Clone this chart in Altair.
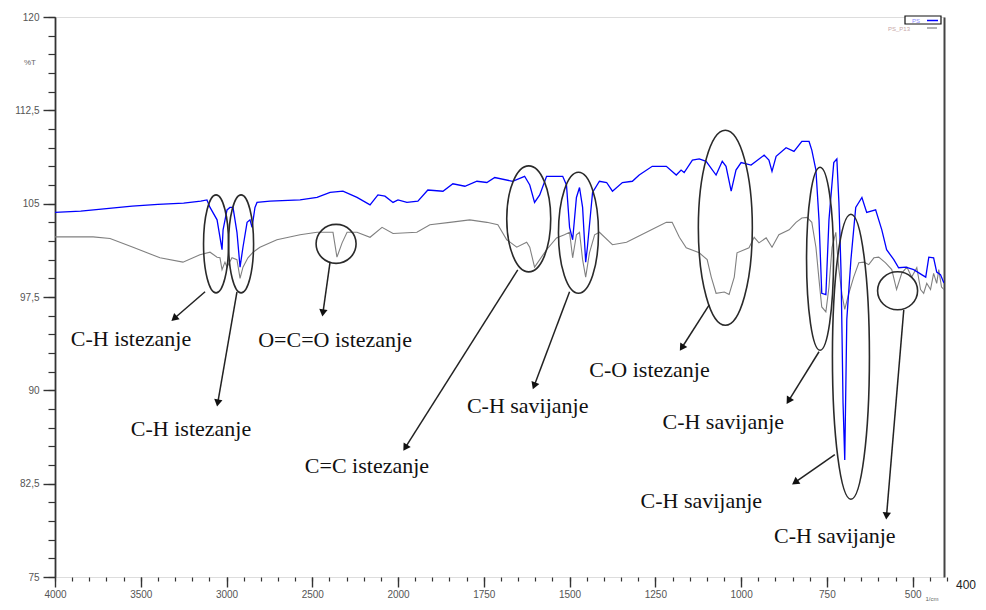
import altair as alt
import pandas as pd

# ---- spectra (wavenumber 1/cm, %T) ----
ps_points = [
    (4000, 104.3), (3850, 104.4), (3700, 104.6), (3550, 104.8), (3400, 104.95), (3250, 105.05),
    (3150, 105.2), (3114, 105.3), (3096, 104.7), (3055, 103.7), (3026, 101.3), (3020, 102.9),
    (2997, 104.5), (2980, 104.7), (2962, 104.7), (2939, 102.7), (2921, 99.9), (2904, 101.5),
    (2880, 103.5), (2863, 103.7), (2851, 103.1), (2834, 104.7), (2822, 105.1), (2746, 105.2),
    (2571, 105.3), (2472, 105.5), (2396, 105.9), (2321, 106.0), (2239, 105.5), (2163, 104.9),
    (2117, 105.7), (2076, 105.6), (2029, 105.1), (2000, 105.3), (1974, 105.1), (1942, 105.2),
    (1913, 106.1), (1869, 106.0), (1840, 106.6), (1805, 106.4), (1770, 106.8), (1741, 106.7),
    (1718, 107.1), (1666, 106.8), (1631, 107.2), (1616, 106.5), (1602, 105.1), (1587, 105.7),
    (1567, 107.2), (1520, 107.2), (1509, 106.5), (1500, 103.1), (1491, 102.1), (1480, 105.5),
    (1471, 106.3), (1462, 104.7), (1453, 100.3), (1448, 101.5), (1433, 105.9), (1413, 106.8),
    (1392, 106.7), (1375, 106.0), (1346, 106.7), (1317, 106.8), (1297, 107.3), (1259, 108.0),
    (1218, 108.0), (1189, 107.3), (1175, 107.7), (1166, 107.5), (1142, 108.5), (1122, 108.6),
    (1102, 108.4), (1073, 107.3), (1055, 108.4), (1044, 108.0), (1029, 106.0), (1015, 107.7),
    (1000, 108.3), (971, 108.1), (933, 108.9), (919, 108.5), (910, 107.6), (898, 108.8),
    (869, 109.5), (846, 109.2), (823, 110.0), (802, 110.0), (794, 109.3), (782, 107.7),
    (773, 103.7), (765, 97.8), (753, 97.7), (744, 103.7), (730, 108.3), (721, 108.6),
    (715, 105.1), (709, 99.7), (706, 94.6), (703, 89.0), (698, 84.4), (692, 95.7),
    (680, 100.5), (666, 104.7), (648, 105.5), (634, 104.3), (608, 104.5), (590, 102.9),
    (576, 101.3), (555, 100.5), (541, 99.85), (520, 99.9), (497, 99.7), (474, 99.3),
    (462, 99.1), (453, 100.7), (439, 100.65), (430, 99.5), (419, 99.3), (410, 98.7), (403, 98.5),
]

p13_points = [
    (4000, 102.33), (3778, 102.33), (3679, 102.2), (3545, 101.5), (3388, 100.65), (3254, 100.3),
    (3155, 100.9), (3096, 101.1), (3055, 100.7), (3038, 100.65), (3026, 99.7), (3009, 100.3),
    (2997, 99.9), (2968, 100.65), (2939, 100.5), (2921, 99.0), (2904, 99.9), (2875, 100.65),
    (2845, 101.1), (2805, 101.5), (2706, 102.1), (2571, 102.5), (2472, 102.7), (2414, 102.7),
    (2379, 102.7), (2356, 100.7), (2326, 101.85), (2297, 102.7), (2239, 102.7), (2163, 102.3),
    (2093, 103.1), (2029, 102.6), (1945, 102.7), (1907, 103.3), (1849, 103.5), (1791, 103.7),
    (1741, 103.5), (1709, 103.3), (1683, 102.1), (1654, 101.5), (1625, 101.9), (1616, 101.5),
    (1602, 99.9), (1567, 101.3), (1538, 102.25), (1515, 102.5), (1500, 102.7), (1491, 100.65),
    (1480, 102.5), (1471, 102.7), (1462, 100.5), (1453, 99.1), (1442, 101.05), (1427, 102.5),
    (1413, 102.7), (1375, 101.7), (1334, 101.9), (1276, 102.7), (1218, 103.5), (1201, 103.5),
    (1180, 102.3), (1160, 101.45), (1122, 101.05), (1099, 100.5), (1087, 99.1), (1073, 97.8),
    (1049, 97.9), (1035, 97.7), (1020, 99.1), (1012, 101.05), (977, 101.45), (962, 102.3),
    (948, 101.85), (927, 102.25), (910, 101.5), (890, 102.5), (860, 102.9), (840, 103.5),
    (823, 103.85), (808, 103.9), (794, 103.5), (782, 101.5), (773, 98.9), (765, 96.7),
    (753, 96.3), (744, 98.3), (735, 101.5), (724, 102.7), (721, 101.5), (715, 99.7),
    (706, 97.7), (698, 96.5), (686, 97.8), (672, 99.1), (657, 100.25), (642, 100.3),
    (628, 100.1), (613, 100.65), (599, 100.7), (579, 100.25), (561, 99.7), (547, 98.1),
    (532, 99.4), (517, 99.9), (503, 99.1), (488, 99.85), (477, 98.1), (468, 97.8),
    (459, 98.6), (448, 98.1), (439, 99.4), (430, 98.6), (424, 99.7), (416, 98.3),
    (405, 98.0), (402, 96.5),
]

# ---- axis ticks ----
major_x = [4000, 3500, 3000, 2500, 2000, 1750, 1500, 1250, 1000, 750, 500]
minor_x = list(range(4000, 2000, -100)) + list(range(2000, 399, -50))
major_y = [75, 82.5, 90, 97.5, 105, 112.5, 120]
minor_y = [75 + 1.5 * i for i in range(31)]

# ---- annotations ----
labels = ["C-H istezanje", "C-H istezanje", "O=C=O istezanje", "C=C istezanje",
          "C-H savijanje", "C-O istezanje", "C-H savijanje", "C-H savijanje", "C-H savijanje"]
label_wn = [3557, 3207, 2367, 2181, 1622, 1267, 1052, 1116, 727]
label_t = [94.1, 86.9, 94.06, 83.95, 88.76, 91.65, 87.48, 81.13, 78.32]

ell_wn = [3061, 2915, 2361, 1619, 1474, 1046, 770, 680, 544]
ell_t = [101.77, 101.77, 101.77, 103.78, 102.66, 103.06, 100.57, 92.7, 98.0]
ell_w = [25, 25, 40, 44, 40, 54, 27, 37, 40]
ell_h = [98, 98, 39, 106, 121, 195, 183, 285, 38]

arr_wn0 = [3125, 2939, 2396, 1651, 1500, 1093, 773, 727, 526]
arr_t0 = [97.92, 97.92, 100.33, 99.68, 97.92, 96.87, 93.1, 84.83, 96.47]
arr_wn1 = [3300, 3050, 2437, 1977, 1602, 1171, 860, 840, 576]
arr_t1 = [95.83, 89.08, 96.31, 85.47, 90.45, 93.5, 89.24, 82.66, 80.0]
arr_angle = [229, 190, 188, 212, 201, 213, 212, 235, 185]


def ellipse_path(a):
    k = 0.5523
    return (f"M0,-1 C{a*k:.4f},-1 {a:.4f},{-k:.4f} {a:.4f},0 "
            f"C{a:.4f},{k:.4f} {a*k:.4f},1 0,1 "
            f"C{-a*k:.4f},1 {-a:.4f},{k:.4f} {-a:.4f},0 "
            f"C{-a:.4f},{-k:.4f} {-a*k:.4f},-1 0,-1 Z")


ps_df = pd.DataFrame(ps_points, columns=["wn", "t"])
p13_df = pd.DataFrame(p13_points, columns=["wn", "t"])
lab_df = pd.DataFrame({"wn": label_wn, "t": label_t, "label": labels})
ell_df = pd.DataFrame({
    "wn": ell_wn, "t": ell_t,
    "path": [ellipse_path(w / h) for w, h in zip(ell_w, ell_h)],
    "size": [h * h for h in ell_h],
})
arr_df = pd.DataFrame({"wn0": arr_wn0, "t0": arr_t0, "wn1": arr_wn1, "t1": arr_t1,
                       "angle": arr_angle})
one = pd.DataFrame({"a": [0]})

xscale = alt.Scale(domain=[4000, 2000, 400], range=[0, 343, 892], nice=False, zero=False)
yscale = alt.Scale(domain=[75, 120], nice=False, zero=False)

AX_FONT = "Liberation Sans"
X_MAJOR = alt.Axis(values=major_x, orient="bottom", tickSize=10, tickWidth=1.4, tickColor="#333",
                   domain=False, grid=False, title=None, labelFont=AX_FONT, labelFontSize=10,
                   labelColor="#555", labelPadding=2, format="d", labelFlush=False,
                   labelOverlap=False)
X_MINOR = alt.Axis(values=minor_x, orient="bottom", tickSize=4, tickWidth=1.2, tickColor="#333",
                   domain=False, grid=False, title=None, labels=False)
Y_MAJOR = alt.Axis(values=major_y, orient="left", tickSize=12, tickWidth=1.4, tickColor="#333",
                   domainColor="#333", domainWidth=1.8, grid=False, title=None,
                   labelFont=AX_FONT, labelFontSize=10, labelColor="#555", labelPadding=4,
                   labelExpr="replace(toString(datum.value), '.', ',')", labelFlush=False,
                   labelOverlap=False)
Y_MINOR = alt.Axis(values=minor_y, orient="left", tickSize=7, tickWidth=1.2, tickColor="#333",
                   domain=False, grid=False, title=None, labels=False)
Y_RIGHT = alt.Axis(values=[], orient="right", ticks=False, labels=False, domainColor="#444",
                   domainWidth=2, grid=False, title=None)

grey = alt.Chart(p13_df).mark_line(color="#808080", strokeWidth=1.1, clip=True).encode(
    x=alt.X("wn:Q", scale=xscale, axis=X_MINOR),
    y=alt.Y("t:Q", scale=yscale, axis=Y_MINOR),
)
blue = alt.Chart(ps_df).mark_line(color="#0000ff", strokeWidth=1.3, clip=True).encode(
    x=alt.X("wn:Q", scale=xscale, axis=X_MAJOR),
    y=alt.Y("t:Q", scale=yscale, axis=Y_MAJOR),
)
ellipses = alt.Chart(ell_df).mark_point(filled=False, color="#2a2a2a", strokeWidth=1.6,
                                        opacity=1).encode(
    x=alt.X("wn:Q", scale=xscale, axis=None),
    y=alt.Y("t:Q", scale=yscale, axis=Y_RIGHT),
    shape=alt.Shape("path:N", scale=None),
    size=alt.Size("size:Q", scale=None),
)
arrows = alt.Chart(arr_df).mark_rule(color="#222", strokeWidth=1.5).encode(
    x=alt.X("wn0:Q", scale=xscale, axis=None),
    x2="wn1:Q",
    y=alt.Y("t0:Q", scale=yscale, axis=None),
    y2="t1:Q",
)
heads = alt.Chart(arr_df).mark_point(shape="triangle", filled=True, color="#111", size=70,
                                     opacity=1).encode(
    x=alt.X("wn1:Q", scale=xscale, axis=None),
    y=alt.Y("t1:Q", scale=yscale, axis=None),
    angle=alt.Angle("angle:Q", scale=None),
)
texts = alt.Chart(lab_df).mark_text(font="Liberation Serif", fontSize=22, color="#111",
                                    align="center", baseline="middle").encode(
    x=alt.X("wn:Q", scale=xscale, axis=None),
    y=alt.Y("t:Q", scale=yscale, axis=None),
    text="label:N",
)

# ---- legend and extra axis text ----
legend_box = alt.Chart(one).mark_rect(fill="white", stroke="#111", strokeWidth=1.2).encode(
    x=alt.value(850), x2=alt.value(886), y=alt.value(-1), y2=alt.value(7))
legend_ps = alt.Chart(one).mark_text(text="PS", font=AX_FONT, fontSize=6, color="#8a8aff",
                                     align="center", baseline="middle").encode(
    x=alt.value(861), y=alt.value(3.5))
legend_ps_line = alt.Chart(one).mark_rule(color="#0000ff", strokeWidth=1.5).encode(
    x=alt.value(872), x2=alt.value(883), y=alt.value(3.5))
legend_p13 = alt.Chart(one).mark_text(text="PS_P13", font=AX_FONT, fontSize=6, color="#c8a8a8",
                                      align="center", baseline="middle").encode(
    x=alt.value(844), y=alt.value(12))
legend_p13_line = alt.Chart(one).mark_rule(color="#808080", strokeWidth=1.2).encode(
    x=alt.value(872), x2=alt.value(882), y=alt.value(11))
pct = alt.Chart(one).mark_text(text="%T", font=AX_FONT, fontSize=8, color="#666",
                               align="center", baseline="middle").encode(
    x=alt.value(-25), y=alt.value(46))
t400 = alt.Chart(one).mark_text(text="400", font=AX_FONT, fontSize=12, color="#222",
                                align="center", baseline="middle").encode(
    x=alt.value(911), y=alt.value(568))
unit = alt.Chart(one).mark_text(text="1/cm", font=AX_FONT, fontSize=6, color="#666",
                                align="center", baseline="middle").encode(
    x=alt.value(877), y=alt.value(582))

chart = alt.layer(
    grey, blue, ellipses, arrows, heads, texts,
    legend_box, legend_ps, legend_ps_line, legend_p13, legend_p13_line, pct, t400, unit,
).resolve_axis(x="independent", y="independent").properties(
    width=889, height=560,
    autosize=alt.AutoSizeParams(type="none"),
    padding={"left": 47, "top": 9, "right": 33, "bottom": 24},
).configure_view(
    stroke="#333", strokeDash=[4, 3], strokeWidth=1.2
).configure(background="white")

chart.save("out.html", embed_options={"renderer": "svg", "actions": False})
